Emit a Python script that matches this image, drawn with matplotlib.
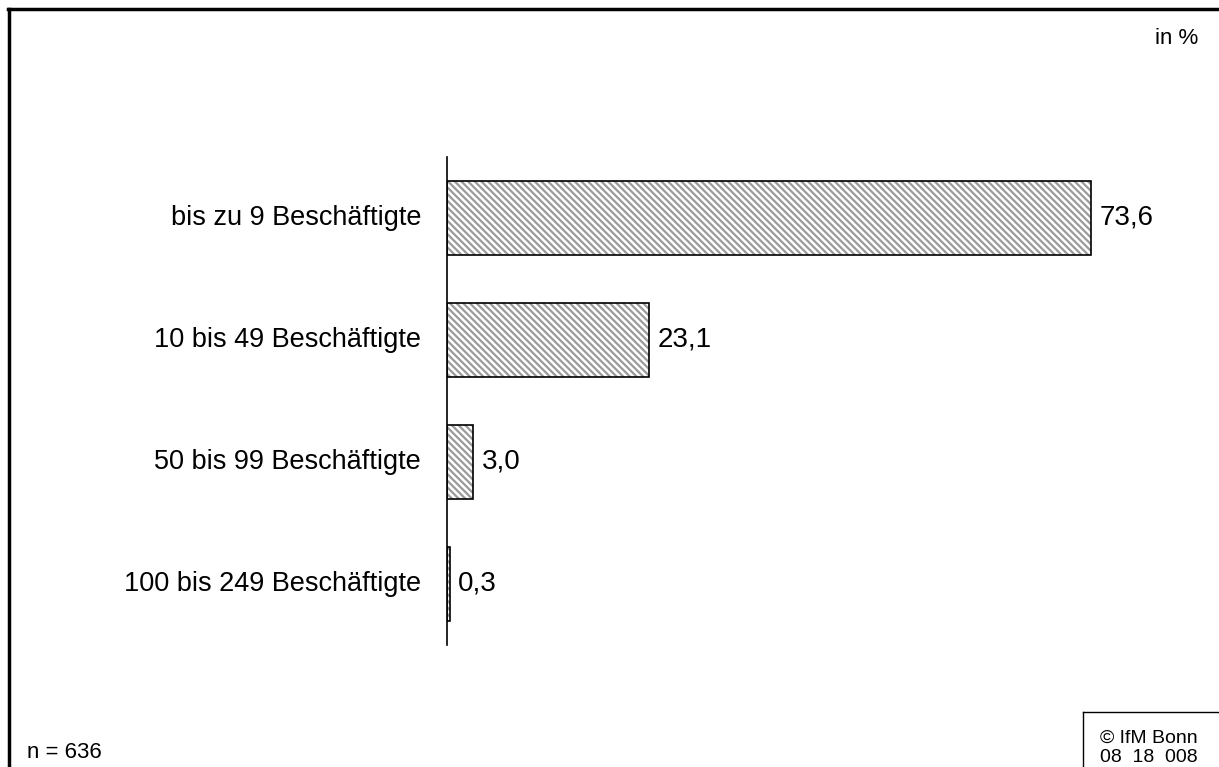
import matplotlib.pyplot as plt
from matplotlib.lines import Line2D
import matplotlib as mpl

plt.rcParams['font.family'] = ['Liberation Sans', 'DejaVu Sans']
mpl.rcParams['hatch.linewidth'] = 1.6

categories = ["bis zu 9 Beschäftigte", "10 bis 49 Beschäftigte",
              "50 bis 99 Beschäftigte", "100 bis 249 Beschäftigte"]
values = [73.6, 23.1, 3.0, 0.3]
value_labels = ["73,6", "23,1", "3,0", "0,3"]

W, H = 1219, 767
fig = plt.figure(figsize=(W / 100, H / 100), dpi=100)

# axes: x from 447 px, 8.75 px per percent; y from 157 to 645 px
x0, x1 = 447, 447 + 80 * 8.75
y_top, y_bot = 157, 645
ax = fig.add_axes([x0 / W, 1 - y_bot / H, (x1 - x0) / W, (y_bot - y_top) / H])

pos = list(range(len(categories)))
# hatch in grey, then black outline on top
ax.barh(pos, values, height=0.6, color='white', edgecolor='#9a9a9a',
        linewidth=0, hatch='\\\\\\\\\\')
ax.barh(pos, values, height=0.6, fill=False, edgecolor='black', linewidth=1.2)
for p, v, lab in zip(pos, values, value_labels):
    ax.text(v + 0.95, p, lab, va='center', ha='left', fontsize=20)
for p, c in zip(pos, categories):
    ax.text(-2.95, p, c, va='center', ha='right', fontsize=19.5)

ax.set_ylim(3.5, -0.5)
ax.set_xlim(0, 80)
for s in ['top', 'right', 'bottom']:
    ax.spines[s].set_visible(False)
ax.spines['left'].set_linewidth(1.2)
ax.set_xticks([])
ax.set_yticks([])

# outer frame (left and top)
fig.add_artist(Line2D([9 / W, 9 / W], [0, 1 - 9 / H], color='black', lw=2.5,
                      transform=fig.transFigure))
fig.add_artist(Line2D([8 / W, 1], [1 - 9 / H, 1 - 9 / H], color='black', lw=2.5,
                      transform=fig.transFigure))

fig.text(1198 / W, 1 - 39 / H, "in %", ha='right', va='center', fontsize=16)
fig.text(27 / W, 1 - 752 / H, "n = 636", ha='left', va='center', fontsize=16)

# copyright box
fig.add_artist(Line2D([1083 / W, 1083 / W], [0, 1 - 712 / H], color='black', lw=1,
                      transform=fig.transFigure))
fig.add_artist(Line2D([1083 / W, 1], [1 - 712 / H, 1 - 712 / H], color='black', lw=1,
                      transform=fig.transFigure))
fig.text(1149 / W, 1 - 738 / H, "© IfM Bonn", ha='center', va='center', fontsize=14)
fig.text(1149 / W, 1 - 757 / H, "08  18  008", ha='center', va='center', fontsize=14)

fig.savefig("out.png", dpi=100)
